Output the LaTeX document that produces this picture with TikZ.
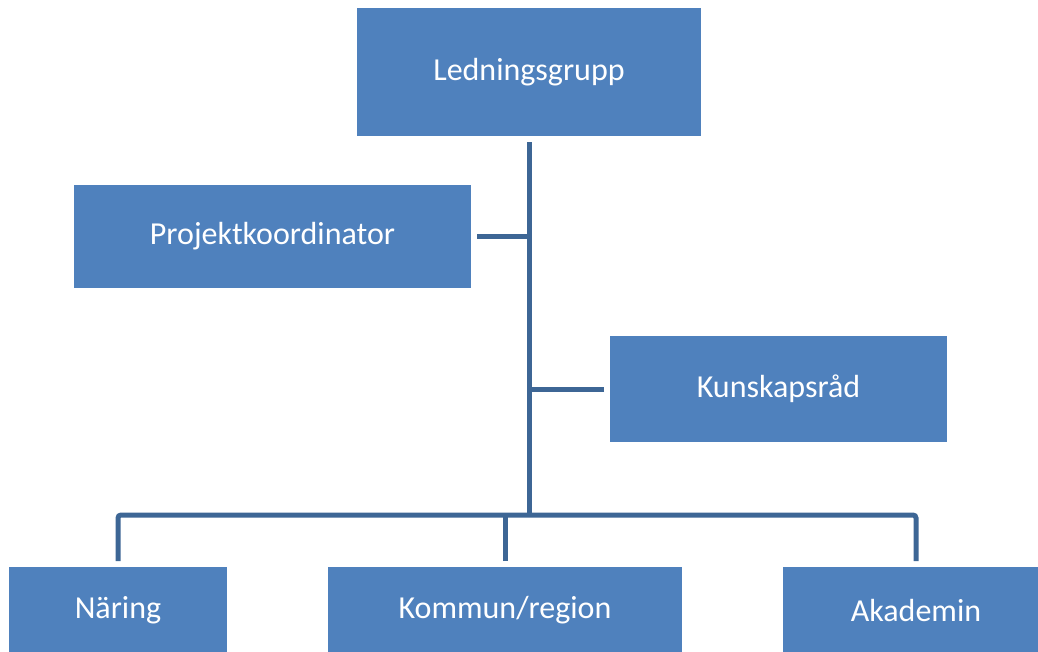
\documentclass[tikz,border=0pt]{standalone}
\usepackage{fontspec}
\setmainfont{Carlito}
\definecolor{boxblue}{HTML}{4F81BD}
\definecolor{linkblue}{HTML}{3D6695}
\tikzset{
  orgbox/.style={rectangle, fill=boxblue, text=white, inner sep=0pt,
    outer sep=6pt, font=\fontsize{32}{38}\selectfont},
  link/.style={draw=linkblue, line width=5pt, rounded corners=3pt}
}
\begin{document}
\begin{tikzpicture}[x=1pt, y=-1pt]
  \useasboundingbox (0,0) rectangle (1038,651);
  \clip (0,0) rectangle (1038,651);
  % boxes
  \node[orgbox, minimum width=344pt, minimum height=128pt] (L) at (529,72) {Ledningsgrupp};
  \node[orgbox, minimum width=397pt, minimum height=103pt] (P) at (272.5,236.5) {Projektkoordinator};
  \node[orgbox, minimum width=337pt, minimum height=106pt] (K) at (778.5,389) {Kunskapsråd};
  \node[orgbox, minimum width=218pt, minimum height=86pt] (N) at (118,610) {Näring};
  \node[orgbox, minimum width=354pt, minimum height=86pt] (C) at (505,610) {Kommun/region};
  \node[orgbox, minimum width=266pt, minimum height=86pt] (A) at (916,610) {Akademin};
  % junction of the trunk and the bottom bar
  \coordinate (J) at (529,515);
  % connectors
  \draw[link] (L.south) -- (J);
  \draw[link] (P.east) -- (P.east -| L.south);
  \draw[link] (K.west) -- (K.west -| L.south);
  \draw[link] (N.north) |- (J) -| (A.north);
  \draw[link] (C.north) -- (C.north |- J);
\end{tikzpicture}
\end{document}
